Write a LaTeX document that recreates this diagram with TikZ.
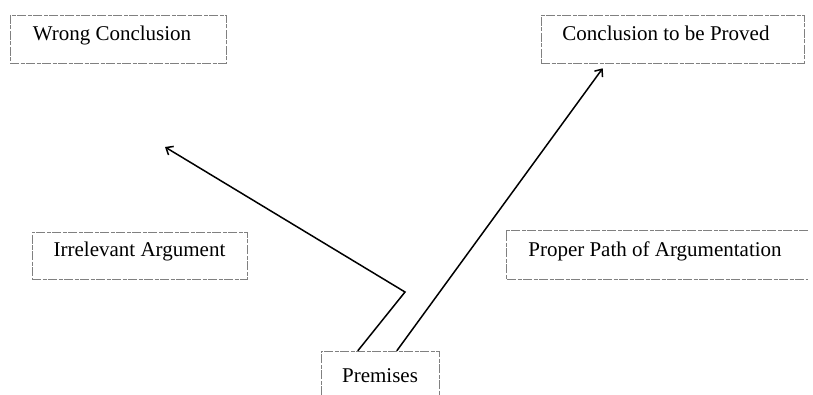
\documentclass[tikz,border=0pt]{standalone}
\usepackage{fontspec}
\setmainfont{Liberation Serif}
\usetikzlibrary{arrows.meta}
\begin{document}
\begin{tikzpicture}[x=1pt,y=1pt,
  boxline/.style={draw=black!50, line width=0.6pt, dash pattern=on 9pt off 1.5pt on 4pt off 1.5pt},
  boxnode/.style={inner sep=0pt, font=\fontsize{21}{24}\selectfont, text height=15pt, text depth=12pt},
  arr/.style={line width=1.5pt, -{Straight Barb[length=6pt,width=10pt,line width=1.5pt]}},
  seg/.style={line width=1.5pt}]
\useasboundingbox (0,0) rectangle (813,-395);
% boxes
\node[boxnode, boxline, minimum width=216pt, minimum height=48pt] (wc) at (118,-39) {\hspace{-12pt}Wrong Conclusion};
\node[boxnode, boxline, minimum width=263pt, minimum height=48pt] (cp) at (672.5,-39) {\hspace{-13pt}Conclusion to be Proved};
\node[boxnode, boxline, minimum width=215pt, minimum height=47pt] (ia) at (139.5,-255.5) {Irrelevant Argument};
\node[boxnode, minimum width=302pt, minimum height=48pt] (pp) at (657,-255) {\hspace{-4pt}Proper Path of Argumentation};
\draw[boxline] (pp.north east) -- (pp.north west) -- (pp.south west) -- (pp.south east);
\node[boxnode, minimum width=118pt, minimum height=60pt] (pr) at (380,-381) {Premises};
\draw[boxline] (pr.south west) -- (pr.north west) -- (pr.north east) -- (pr.south east);
% connectors
\coordinate (s1) at ([xshift=37pt]pr.north west);
\coordinate (s2) at ([xshift=76pt]pr.north west);
\coordinate (b1) at (405,-292);
\coordinate (t1) at (165,-147);
\coordinate (t2) at ([xshift=62pt,yshift=-5pt]cp.south west);
\draw[arr, line join=miter] (s1) -- (b1) -- (t1);
\draw[arr] (s2) -- (t2);
\end{tikzpicture}
\end{document}
